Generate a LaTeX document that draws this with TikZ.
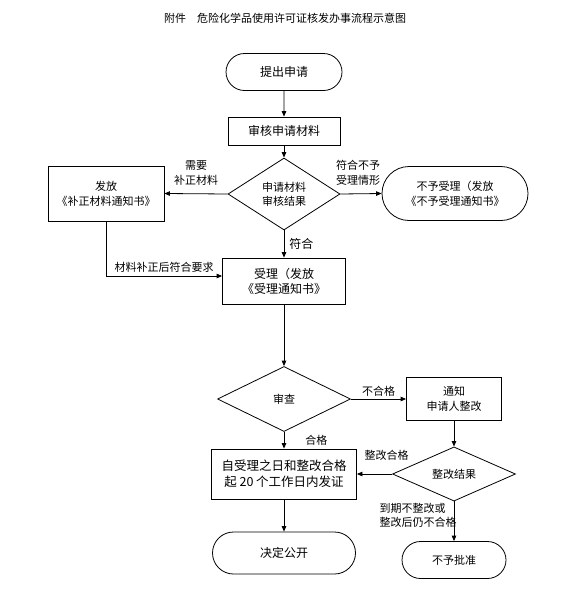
\documentclass[tikz,border=0pt]{standalone}
\usepackage{fontspec}
\setmainfont{Noto Sans CJK SC}
\usetikzlibrary{arrows.meta, shapes.geometric, shapes.misc}
\tikzset{
  fbox/.style={draw, rectangle, line width=0.8pt, align=center, inner sep=1pt,
               font=\fontsize{12}{15}\selectfont},
  fterm/.style={draw, rounded rectangle, line width=0.8pt, align=center, inner sep=1pt,
                font=\fontsize{12}{15}\selectfont},
  fdecide/.style={draw, diamond, line width=0.8pt, align=center, inner sep=0pt,
                  font=\fontsize{11}{14}\selectfont},
  farrow/.style={line width=0.8pt, -{Triangle[length=5.5pt,width=4.5pt]}},
  flabel/.style={font=\fontsize{11}{14.5}\selectfont, align=center, inner sep=1pt},
}

\begin{document}
\begin{tikzpicture}[x=1pt, y=-1pt]
    \useasboundingbox (0,0) rectangle (576,600);
    \node[flabel] (title) at (285,18) {附件\quad 危险化学品使用许可证核发办事流程示意图};
    % main column
    \node[fterm, minimum width=118pt, minimum height=37pt] (start) at (284,72) {提出申请};
    \node[fbox, minimum width=112pt, minimum height=28pt] (review) at (284,131) {审核申请材料};
    \node[fdecide, minimum width=112pt, minimum height=72pt] (check) at (284,194) {申请材料\\审核结果};
    \node[fbox, minimum width=116pt, minimum height=55pt, font=\fontsize{11}{15}\selectfont] (supp) at (106,193.5) {发放\\《补正材料通知书》};
    \node[fterm, minimum width=148pt, minimum height=54pt, font=\fontsize{11}{15}\selectfont] (reject) at (455,193.5) {不予受理（发放\\《不予受理通知书》};
    \node[fbox, minimum width=123pt, minimum height=46pt] (accept) at (284,281) {受理（发放\\《受理通知书》};
    \node[fdecide, minimum width=133pt, minimum height=65pt] (exam) at (284,399) {审查};
    \node[fbox, minimum width=95pt, minimum height=43pt, font=\fontsize{11}{15}\selectfont] (notify) at (454,399) {通知\\申请人整改};
    \node[fbox, minimum width=145pt, minimum height=50pt, font=\fontsize{12.5}{16}\selectfont] (issue) at (284,474) {自受理之日和整改合格\\起 20 个工作日内发证};
    \node[fdecide, minimum width=123pt, minimum height=49pt] (fixres) at (454,474) {整改结果};
    \node[fterm, minimum width=145pt, minimum height=42pt] (publish) at (284,553) {决定公开};
    \node[fterm, minimum width=106pt, minimum height=37pt, font=\fontsize{11}{15}\selectfont] (deny) at (454,560) {不予批准};
    % connectors
    \draw[farrow] (start) -- (review);
    \draw[farrow] (review) -- (check);
    \draw[farrow] (check.west) -- node[flabel, above=7pt] {需要\\补正材料} (supp.east);
    \draw[farrow] (check.east) -- node[flabel, above=7pt, xshift=-3pt] {符合不予\\受理情形} (reject.west);
    \draw[farrow] (check.south) -- node[flabel, right=4pt, font=\fontsize{12}{14}\selectfont] {符合} (accept.north);
    \draw[farrow] (supp.south) |- node[flabel, pos=0.75, above=2pt] {材料补正后符合要求} ([yshift=5pt]accept.west);
    \draw[farrow] (accept) -- (exam);
    \draw[farrow] (exam.east) -- node[flabel, above=1pt] {不合格} (notify.west);
    \draw[farrow] (exam.south) -- node[flabel, right=20pt] {合格} (issue.north);
    \draw[farrow] (notify) -- (fixres);
    \draw[farrow] (fixres.west) -- node[flabel, above=12pt, xshift=12pt] {整改合格} (issue.east);
    \draw[farrow] (fixres.south) -- node[flabel, pos=0.35, anchor=east, align=left, xshift=4pt] {到期不整改或\\整改后仍不合格} (deny.north);
    \draw[farrow] (issue) -- (publish);
  \end{tikzpicture}
\end{document}
